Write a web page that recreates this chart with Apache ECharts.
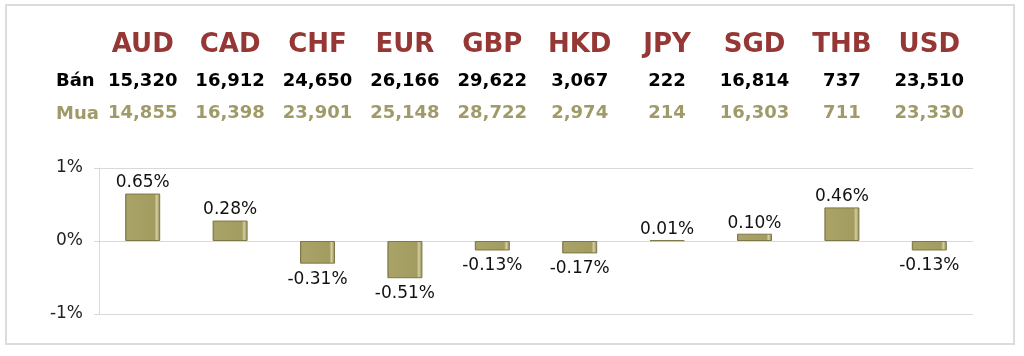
<!DOCTYPE html>
<html>
<head>
<meta charset="utf-8">
<script src="https://cdn.jsdelivr.net/npm/echarts@6/dist/echarts.min.js"></script>
<style>html,body{margin:0;padding:0;background:#fff;}#c{width:1024px;height:356px;}</style>
</head>
<body>
<div id="c"></div>
<script>
const currencies = ['AUD','CAD','CHF','EUR','GBP','HKD','JPY','SGD','THB','USD'];
const sellRates = [15320,16912,24650,26166,29622,3067,222,16814,737,23510];
const buyRates = [14855,16398,23901,25148,28722,2974,214,16303,711,23330];
const changePct = [0.65,0.28,-0.31,-0.51,-0.13,-0.17,0.01,0.10,0.46,-0.13];
const rowLabels = ['Bán','Mua'];
const yTicks = [-1,0,1];

const FONT = '"DejaVu Sans", Verdana, sans-serif';
const fmt = v => v.toLocaleString('en-US');

const chart = echarts.init(document.getElementById('c'), null, {renderer:'canvas'});

const barGrad = new echarts.graphic.LinearGradient(0,0,1,0,[
  {offset:0, color:'#8c854e'},
  {offset:0.06, color:'#aaa368'},
  {offset:0.84, color:'#a39c60'},
  {offset:0.9, color:'#d4cf9f'},
  {offset:1, color:'#8a834d'}
]);

const topAxis = (labels, margin, color, size) => ({
  type:'category', position:'top', data:labels,
  axisLine:{show:false}, axisTick:{show:false}, splitLine:{show:false},
  axisLabel:{interval:0, margin:margin, verticalAlign:'middle', color:color,
    fontFamily:FONT, fontWeight:'bold', fontSize:size}
});

chart.setOption({
  animation:false,
  backgroundColor:'#ffffff',
  grid:{left:99, right:51, top:168, bottom:42, containLabel:false},
  xAxis:[
    {type:'category', data:currencies, position:'bottom',
      axisLine:{show:false}, axisTick:{show:false}, axisLabel:{show:false}, splitLine:{show:false}},
    topAxis(currencies, 123, '#953735', 26),
    topAxis(sellRates.map(fmt), 87, '#000000', 18),
    topAxis(buyRates.map(fmt), 55, '#a09a69', 18)
  ],
  yAxis:{
    type:'value', min:-1, max:1, interval:1,
    axisLine:{show:true, lineStyle:{color:'#d9d9d9', width:1}},
    axisTick:{show:true, length:5, lineStyle:{color:'#d9d9d9'}},
    splitLine:{show:true, lineStyle:{color:'#d9d9d9', width:1}},
    axisLabel:{margin:16, color:'#222', fontFamily:FONT, fontSize:17,
      formatter: v => (yTicks.includes(v) ? v + '%' : '')}
  },
  series:[{
    type:'bar', xAxisIndex:0, barWidth:35,
    data: changePct.map(v => ({
      value:v,
      label:{position: v >= 0 ? 'top' : 'bottom', distance: v >= 0 ? 2 : 7}
    })),
    itemStyle:{color:barGrad, borderColor:'#7e7746', borderWidth:1},
    label:{show:true, color:'#111', fontFamily:FONT, fontSize:17,
      formatter: p => p.value.toFixed(2) + '%'}
  }],
  graphic:[
    {type:'rect', shape:{x:6, y:5, width:1008, height:339},
      style:{fill:'none', stroke:'#dcdcdc', lineWidth:2}, silent:true},
    {type:'text', left:56, top:72, style:{text:rowLabels[0], fill:'#000', font:'bold 18px ' + FONT}},
    {type:'text', left:56, top:105, style:{text:rowLabels[1], fill:'#a09a69', font:'bold 18px ' + FONT}}
  ]
});
</script>
</body>
</html>
